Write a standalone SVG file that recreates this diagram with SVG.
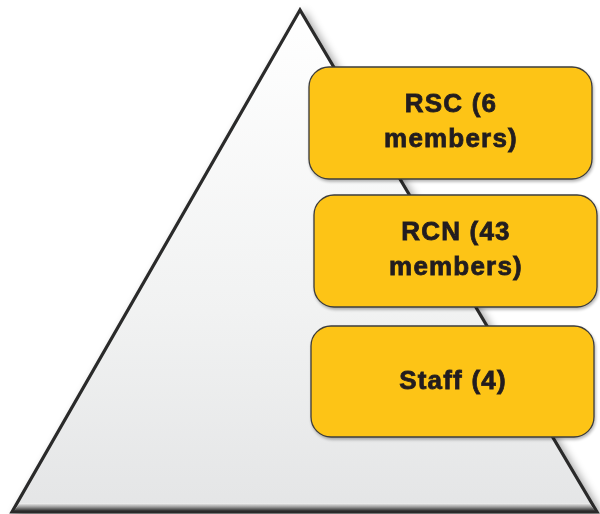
<svg xmlns="http://www.w3.org/2000/svg" width="600" height="514" viewBox="0 0 600 514">
<defs>
<linearGradient id="triFill" x1="0" y1="0" x2="0" y2="1">
<stop offset="0" stop-color="#ffffff"/>
<stop offset="0.6" stop-color="#f1f2f2"/>
<stop offset="1" stop-color="#e4e5e6"/>
</linearGradient>
<linearGradient id="bevel" x1="0" y1="0" x2="0" y2="1">
<stop offset="0" stop-color="#f5f5f5"/>
<stop offset="0.5" stop-color="#9a9a9a"/>
<stop offset="1" stop-color="#2a2a2a"/>
</linearGradient>
<filter id="shadow" x="-10%" y="-10%" width="120%" height="120%">
<feGaussianBlur in="SourceAlpha" stdDeviation="4"/>
<feOffset dx="4" dy="3" result="b"/>
<feComponentTransfer><feFuncA type="linear" slope="0.35"/></feComponentTransfer>
<feMerge><feMergeNode/><feMergeNode in="SourceGraphic"/></feMerge>
</filter>
<filter id="boxShadow" x="-5%" y="-10%" width="110%" height="125%">
<feGaussianBlur in="SourceAlpha" stdDeviation="1.5"/>
<feOffset dx="1" dy="1.5"/>
<feComponentTransfer><feFuncA type="linear" slope="0.3"/></feComponentTransfer>
<feMerge><feMergeNode/><feMergeNode in="SourceGraphic"/></feMerge>
</filter>
</defs>
<style>
.box{fill:#fdc418;stroke:#3c3c3c;stroke-width:1.3;}
.lbl{font-family:"Liberation Sans",Arial,sans-serif;font-weight:bold;font-size:26px;fill:#231f20;stroke:#231f20;stroke-width:0.8;text-anchor:middle;letter-spacing:1.2px;}
</style>
<g id="pyramid" filter="url(#shadow)">
<polygon points="300,10 12,512 597,512" fill="url(#triFill)" stroke="#2b2b2b" stroke-width="3.2" stroke-linejoin="miter"/>
<polygon points="20,503 589,503 595,511 14,511" fill="url(#bevel)"/>
</g>
<g id="rsc" filter="url(#boxShadow)">
<rect class="box" x="309" y="67" width="283" height="112" rx="20"/>
<text class="lbl" x="451" y="112">RSC (6</text>
<text class="lbl" x="451" y="147">members)</text>
</g>
<g id="rcn" filter="url(#boxShadow)">
<rect class="box" x="314" y="195" width="283" height="112" rx="20"/>
<text class="lbl" x="456" y="240">RCN (43</text>
<text class="lbl" x="456" y="275">members)</text>
</g>
<g id="staff" filter="url(#boxShadow)">
<rect class="box" x="311" y="326" width="283" height="111" rx="20"/>
<text class="lbl" x="453" y="389">Staff (4)</text>
</g>
<g id="connectors"/>
</svg>
